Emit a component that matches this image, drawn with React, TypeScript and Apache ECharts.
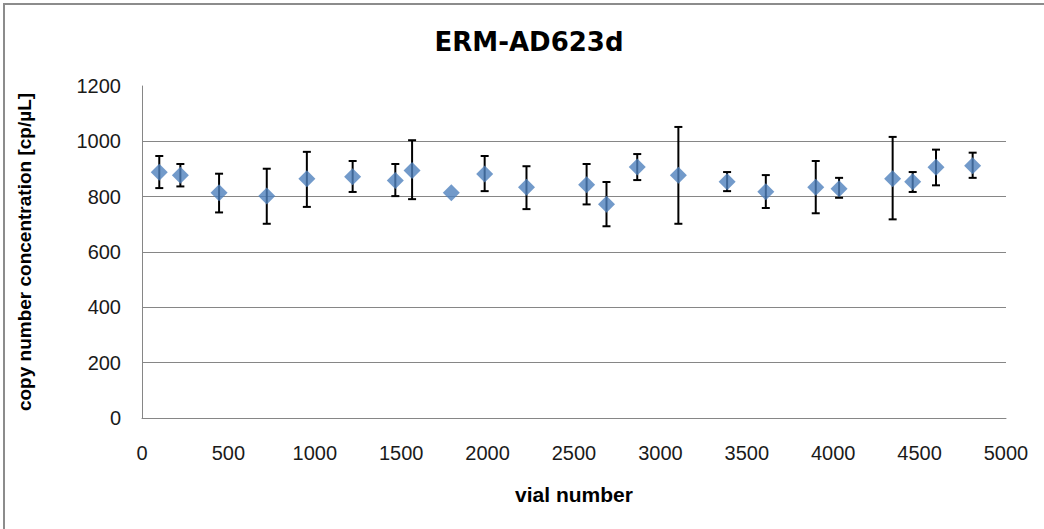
import React, { useEffect, useRef } from "react";
import * as echarts from "echarts";

const vialNumbers = [100, 222, 446, 722, 954, 1219, 1466, 1563, 1790, 1983, 2225, 2573, 2688, 2866, 3104, 3386, 3610, 3899, 4034, 4344, 4460, 4595, 4807];
const concentrations = [888, 877, 814, 802, 865, 872, 858, 895, 814, 882, 834, 843, 773, 907, 877, 854, 818, 834, 829, 865, 854, 906, 912];
const upperBounds = [947, 918, 883, 901, 962, 929, 918, 1004, 814, 947, 910, 918, 853, 954, 1052, 889, 878, 929, 868, 1016, 889, 970, 959];
const lowerBounds = [831, 837, 743, 702, 763, 817, 802, 791, 814, 820, 755, 772, 693, 860, 702, 820, 759, 740, 796, 718, 817, 841, 868];

const titleText = "ERM-AD623d";
const xAxisName = "vial number";
const yAxisName = "copy number concentration [cp/µL]";

export default function App() {
  const ref = useRef<HTMLDivElement>(null);

  useEffect(() => {
    if (!ref.current) return;
    const chart = echarts.init(ref.current, null, { renderer: "svg" });
    const scatterData = vialNumbers.map((x, i) => [x, concentrations[i]]);
    const errData = vialNumbers.map((x, i) => [x, lowerBounds[i], upperBounds[i]]);
    const gridColor = "#868686";
    const plain = (v: number) => String(v);

    chart.setOption({
      animation: false,
      backgroundColor: "#ffffff",
      graphic: [
        {
          type: "rect",
          shape: { x: 4, y: 4, width: 1200, height: 700 },
          style: { fill: "none", stroke: "#8c8c8c", lineWidth: 2 },
          silent: true,
        },
        {
          type: "text",
          x: 529,
          y: 42,
          style: {
            text: titleText,
            fontFamily: "DejaVu Sans",
            fontWeight: "bold",
            fontSize: 26,
            fill: "#000",
            textAlign: "center",
            textVerticalAlign: "middle",
          },
        },
      ],
      grid: { left: 142, right: 38, top: 86, bottom: 111, containLabel: false },
      xAxis: {
        type: "value",
        min: 0,
        max: 5000,
        interval: 500,
        name: xAxisName,
        nameLocation: "middle",
        nameGap: 66,
        nameTextStyle: { fontFamily: "Liberation Sans", fontWeight: "bold", fontSize: 21, color: "#000" },
        axisLine: { show: true, lineStyle: { color: gridColor, width: 1 } },
        axisTick: { show: false },
        splitLine: { show: false },
        axisLabel: { margin: 25, fontFamily: "Liberation Sans", fontSize: 20, color: "#1a1a1a", formatter: plain },
      },
      yAxis: {
        type: "value",
        min: 0,
        max: 1200,
        interval: 200,
        name: yAxisName,
        nameLocation: "middle",
        nameGap: 108,
        nameTextStyle: { fontFamily: "Liberation Sans", fontWeight: "bold", fontSize: 19, color: "#000" },
        axisLine: { show: true, lineStyle: { color: gridColor, width: 1 } },
        axisTick: { show: false },
        splitLine: { show: true, showMaxLine: false, lineStyle: { color: gridColor, width: 1 } },
        axisLabel: { margin: 21, fontFamily: "Liberation Sans", fontSize: 20, color: "#1a1a1a", formatter: plain },
      },
      series: [
        {
          type: "custom",
          data: errData,
          encode: { x: 0, y: [1, 2] },
          z: 2,
          renderItem: (params: any, api: any) => {
            const x = api.value(0);
            const lo = api.value(1);
            const hi = api.value(2);
            if (lo === hi) return { type: "group", children: [] };
            const pLo = api.coord([x, lo]);
            const pHi = api.coord([x, hi]);
            const hw = 4;
            const style = { stroke: "#000", lineWidth: 2 };
            return {
              type: "group",
              children: [
                { type: "line", shape: { x1: pLo[0], y1: pLo[1], x2: pHi[0], y2: pHi[1] }, style },
                { type: "line", shape: { x1: pHi[0] - hw, y1: pHi[1], x2: pHi[0] + hw, y2: pHi[1] }, style },
                { type: "line", shape: { x1: pLo[0] - hw, y1: pLo[1], x2: pLo[0] + hw, y2: pLo[1] }, style },
              ],
            };
          },
        },
        {
          type: "scatter",
          data: scatterData,
          symbol: "diamond",
          symbolSize: 17,
          z: 3,
          itemStyle: { color: "#4F81BD" },
        },
      ],
    });

    return () => chart.dispose();
  }, []);

  return (
    <div
      ref={ref}
      style={{ position: "fixed", left: 0, top: 0, width: 1044, height: 529 }}
    />
  );
}
